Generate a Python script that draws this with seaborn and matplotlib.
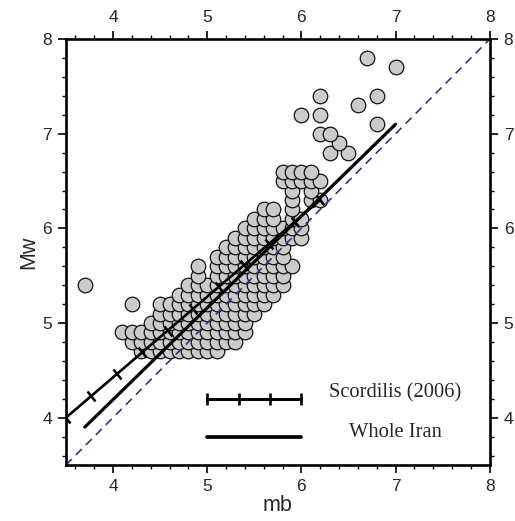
import matplotlib

matplotlib.use("Agg")
import matplotlib.pyplot as plt
import numpy as np
import pandas as pd
import seaborn as sns
from matplotlib.markers import MarkerStyle
from matplotlib.transforms import Affine2D

# mb values of the events, one list per Mw row (0.1 grid)
ROW_MW = [4.7, 4.8, 4.9, 5.0, 5.1, 5.2, 5.3, 5.4, 5.5, 5.6, 5.7, 5.8, 5.9,
          6.0, 6.1, 6.2, 6.3, 6.4, 6.5, 6.6, 6.8, 6.9, 7.0, 7.1, 7.2, 7.3,
          7.4, 7.7, 7.8]
ROW_MB = [
    [4.3, 4.4, 4.5, 4.6, 4.7, 4.8, 4.9, 5.0, 5.1],
    [4.2, 4.3, 4.4, 4.5, 4.6, 4.7, 4.8, 4.9, 5.0, 5.1, 5.2, 5.3],
    [4.1, 4.2, 4.3, 4.4, 4.5, 4.6, 4.7, 4.8, 4.9, 5.0, 5.1, 5.2, 5.3, 5.4],
    [4.4, 4.5, 4.6, 4.7, 4.8, 4.9, 5.0, 5.1, 5.2, 5.3, 5.4],
    [4.5, 4.6, 4.7, 4.8, 4.9, 5.0, 5.1, 5.2, 5.3, 5.4, 5.5],
    [4.2, 4.5, 4.6, 4.7, 4.8, 4.9, 5.0, 5.1, 5.2, 5.3, 5.4, 5.5, 5.6],
    [4.7, 4.8, 4.9, 5.0, 5.1, 5.2, 5.3, 5.4, 5.5, 5.6, 5.7],
    [3.7, 4.8, 4.9, 5.0, 5.1, 5.2, 5.3, 5.4, 5.5, 5.6, 5.7, 5.8],
    [4.9, 5.1, 5.2, 5.3, 5.4, 5.5, 5.6, 5.7, 5.8],
    [4.9, 5.1, 5.2, 5.3, 5.4, 5.5, 5.6, 5.7, 5.8, 5.9],
    [5.1, 5.2, 5.3, 5.4, 5.5, 5.6, 5.7, 5.8],
    [5.2, 5.3, 5.4, 5.5, 5.6, 5.7, 5.8],
    [5.3, 5.4, 5.5, 5.6, 5.7, 5.8, 5.9, 6.0],
    [5.4, 5.5, 5.6, 5.7, 5.8, 5.9, 6.0],
    [5.5, 5.6, 5.7, 5.9, 6.0],
    [5.6, 5.7, 5.9],
    [5.9, 6.1, 6.2],
    [5.9, 6.1],
    [5.8, 5.9, 6.0, 6.1, 6.2],
    [5.8, 5.9, 6.0, 6.1],
    [6.3, 6.5],
    [6.4],
    [6.2, 6.3],
    [6.8],
    [6.0, 6.2],
    [6.6],
    [6.2, 6.8],
    [7.0],
    [6.7],
]

# regression lines (end points)
SCORD_X = [3.5, 6.2]
SCORD_Y = [4.0, 6.3]
IRAN_X = [3.7, 7.0]
IRAN_Y = [3.9, 7.1]

LIM = (3.5, 8.0)
TICKS = [4, 5, 6, 7, 8]

df = pd.DataFrame(
    [(mb, mw) for mw, row in zip(ROW_MW, ROW_MB) for mb in row],
    columns=["mb", "Mw"],
)

sns.set_theme(style="ticks")
plt.rcParams["font.family"] = ["Liberation Sans", "DejaVu Sans"]

fig = plt.figure(figsize=(5.15, 5.21), dpi=100)
ax = fig.add_axes([0.128, 0.1075, 0.823, 0.8175])

sns.scatterplot(data=df, x="mb", y="Mw", s=110, color="#cbcbcb",
                edgecolor="#111111", linewidth=0.9, ax=ax, legend=False)
for c in ax.collections:
    c.set_zorder(1)

# 1:1 line
ax.plot(LIM, LIM, ls=(0, (5, 3.5)), color="#34348a", lw=1.2, zorder=5)

# Scordilis (2006) with cross ticks along the line
tick = MarkerStyle("|", transform=Affine2D().rotate_deg(40.4))
sx = np.linspace(SCORD_X[0], SCORD_X[1], 11)
sy = np.interp(sx, SCORD_X, SCORD_Y)
ax.plot(SCORD_X, SCORD_Y, color="black", lw=1.9, zorder=6)
ax.plot(sx, sy, ls="none", marker=tick, ms=9, mew=1.8, color="black", zorder=6)

# Whole Iran
ax.plot(IRAN_X, IRAN_Y, color="black", lw=2.3, zorder=6)

# hand-made legend
ax.plot([5, 6], [4.2, 4.2], color="black", lw=2.2, zorder=6)
ax.plot(np.linspace(5, 6, 4), [4.2] * 4, ls="none", marker="|", ms=8, mew=1.9,
        color="black", zorder=6)
ax.plot([5, 6], [3.8, 3.8], color="black", lw=2.7, zorder=6)
ax.text(7.0, 4.26, "Scordilis (2006)", ha="center", va="center",
        family=["Liberation Serif", "DejaVu Serif"], fontsize=14.8)
ax.text(7.0, 3.84, "Whole Iran", ha="center", va="center",
        family=["Liberation Serif", "DejaVu Serif"], fontsize=14.8)

ax.set_xlim(*LIM)
ax.set_ylim(*LIM)
ax.set_xticks(TICKS)
ax.set_yticks(TICKS)
ax.set_xticks(np.arange(3.6, 8.0, 0.2), minor=True)
ax.set_yticks(np.arange(3.6, 8.0, 0.2), minor=True)
ax.tick_params(which="both", direction="out", top=True, right=True,
               labeltop=True, labelright=True, color="black")
ax.tick_params(which="major", length=6, width=1.2, labelsize=12.5, pad=4)
ax.tick_params(which="minor", length=3, width=1.0)
for s in ax.spines.values():
    s.set_linewidth(1.9)
    s.set_color("black")
    s.set_zorder(7)

ax.set_xlabel("mb", fontsize=15.5, labelpad=1)
ax.set_ylabel("Mw", fontsize=15.5, labelpad=2)

fig.savefig("out.png", dpi=100)
